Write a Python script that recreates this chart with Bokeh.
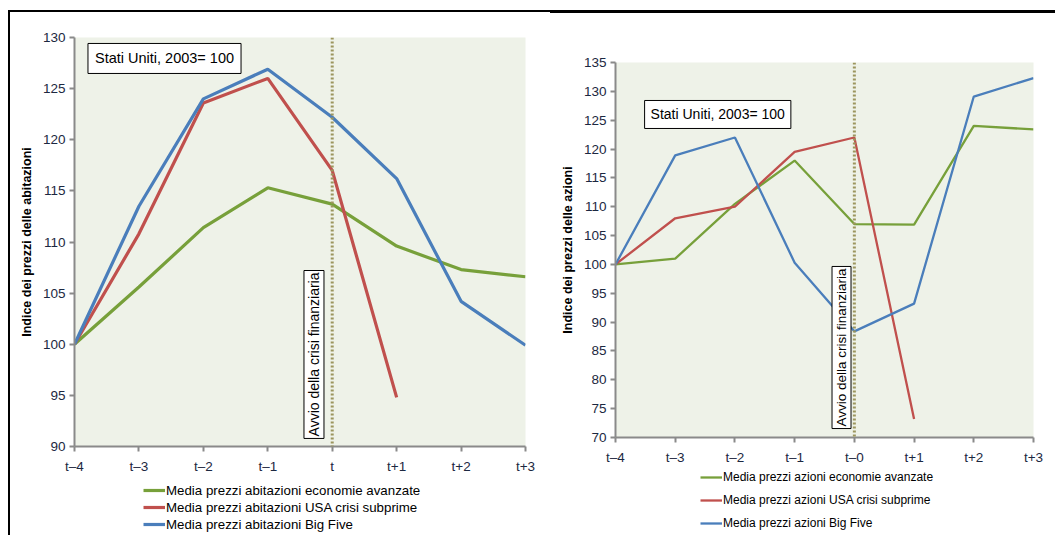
from bokeh.plotting import figure
from bokeh.layouts import row, column
from bokeh.models import (FixedTicker, Span, Label, Legend, LegendItem, Range1d)
from bokeh.embed import file_html
from bokeh.resources import INLINE
import math

# ---- data ----
periods = [-4, -3, -2, -1, 0, 1, 2, 3]
house_ticks = ["t–4", "t–3", "t–2", "t–1", "t", "t+1", "t+2", "t+3"]
stock_ticks = ["t–4", "t–3", "t–2", "t–1", "t–0", "t+1", "t+2", "t+3"]

house_advanced = [100, 105.6, 111.4, 115.3, 113.7, 109.6, 107.3, 106.6]
house_usa = [100, 110.8, 123.6, 126.0, 117.0, 94.8]
house_big5 = [100, 113.5, 124.0, 126.9, 122.2, 116.2, 104.2, 99.9]

stock_advanced = [100, 101.0, 110.5, 118.0, 107.0, 106.9, 124.0, 123.4]
stock_usa = [100, 108.0, 110.0, 119.5, 122.0, 73.2]
stock_big5 = [100, 118.9, 122.0, 100.3, 88.4, 93.2, 129.1, 132.3]

house_labels = ["Media prezzi abitazioni economie avanzate",
                "Media prezzi abitazioni USA crisi subprime",
                "Media prezzi abitazioni Big Five"]
stock_labels = ["Media prezzi azioni economie avanzate",
                "Media prezzi azioni USA crisi subprime",
                "Media prezzi azioni Big Five"]

GREEN = "#77a03a"
RED = "#c0504d"
BLUE = "#4a7ebb"
COLORS = [GREEN, RED, BLUE]
FONT = "Liberation Sans"
BG = "#eef2e8"
TICK_COL = "#1c2841"
NAN = float("nan")


def style(p, ticks, ystep, ylabel):
    p.background_fill_color = BG
    p.border_fill_color = "white"
    p.outline_line_color = None
    p.xgrid.visible = False
    p.ygrid.visible = False
    p.xaxis.ticker = FixedTicker(ticks=periods)
    p.xaxis.major_label_overrides = {k: v for k, v in zip(periods, ticks)}
    y0, y1 = p.y_range.start, p.y_range.end
    p.yaxis.ticker = FixedTicker(ticks=list(range(int(y0), int(y1) + 1, ystep)))
    for ax in (p.xaxis[0], p.yaxis[0]):
        ax.axis_line_color = "#8a8a8a"
        ax.axis_line_width = 2
        ax.major_tick_line_color = "#8a8a8a"
        ax.major_tick_line_width = 2
        ax.major_tick_in = 0
        ax.major_tick_out = 5
        ax.minor_tick_line_color = None
        ax.major_label_text_font = FONT
        ax.major_label_text_font_size = "13.5px"
        ax.major_label_text_color = TICK_COL
    p.yaxis.axis_label = ylabel
    p.yaxis.axis_label_text_font = FONT
    p.yaxis.axis_label_text_font_style = "bold"
    p.yaxis.axis_label_text_font_size = "12.5px"
    p.yaxis.axis_label_text_color = "black"
    p.yaxis.axis_label_standoff = 6
    p.yaxis.major_label_standoff = 4
    p.xaxis.major_label_standoff = 7


def boxed(p, x, y, text, size, angle=0.0, pad=4):
    p.add_layout(Label(x=x, y=y, text=text, angle=angle,
                       text_align="center", text_baseline="middle",
                       text_font=FONT, text_font_size=size, text_color="black",
                       background_fill_color="white",
                       border_line_color="black", border_line_width=1,
                       padding=pad))


def legend_panel(width, height, labels, line_width, loc, spacing, size):
    # small frame-only figure that carries the key for the panel above it
    lg = figure(width=width, height=height, output_backend="svg",
                toolbar_location=None, x_axis_type=None, y_axis_type=None,
                x_range=Range1d(0, 1), y_range=Range1d(0, 1),
                min_border=0, outline_line_color=None)
    lg.background_fill_color = "white"
    lg.border_fill_color = "white"
    lg.grid.visible = False
    keys = [lg.line([NAN], [NAN], line_color=c, line_width=line_width)
            for c in COLORS]
    lg.add_layout(Legend(items=[LegendItem(label=l, renderers=[k])
                                for l, k in zip(labels, keys)],
                         location=loc, orientation="vertical",
                         label_text_font=FONT, label_text_font_size=size,
                         label_text_color="black", glyph_width=22,
                         glyph_height=16, label_height=16, spacing=spacing,
                         padding=0, margin=0, label_standoff=1,
                         border_line_color=None, background_fill_alpha=0),
                  "center")
    return lg


# ---- house prices panel ----
left = figure(width=540, height=466, output_backend="svg", toolbar_location=None,
              x_range=Range1d(-4, 3), y_range=Range1d(90, 130),
              min_border_left=64, min_border_right=25,
              min_border_top=25, min_border_bottom=32)
style(left, house_ticks, 5, "Indice dei prezzi delle abitazioni")
left.add_layout(Span(location=0, dimension="height", line_color="#9c965e",
                     line_width=3, line_dash="2 2"))
r1 = left.line(periods, house_advanced, line_color=GREEN, line_width=3.2)
r2 = left.line(periods[:len(house_usa)], house_usa, line_color=RED, line_width=3.2)
r3 = left.line(periods, house_big5, line_color=BLUE, line_width=3.2)
boxed(left, -0.283, 99.0, "Avvio della crisi finanziaria", "14px", math.pi / 2, 2)
boxed(left, -2.603, 127.95, "Stati Uniti, 2003= 100", "14.5px", 0.0, 7)
left_key = legend_panel(540, 57, house_labels, 3.2, (69, 3), 1, "13.3px")

# ---- stock prices panel ----
right = figure(width=505, height=456, output_backend="svg", toolbar_location=None,
               x_range=Range1d(-4, 3), y_range=Range1d(70, 135),
               min_border_left=65, min_border_right=22,
               min_border_top=49, min_border_bottom=32)
style(right, stock_ticks, 5, "Indice dei prezzi delle azioni")
right.add_layout(Span(location=0, dimension="height", line_color="#9c965e",
                      line_width=3, line_dash="2 2"))
s1 = right.line(periods, stock_advanced, line_color=GREEN, line_width=2.3)
s2 = right.line(periods[:len(stock_usa)], stock_usa, line_color=RED, line_width=2.3)
s3 = right.line(periods, stock_big5, line_color=BLUE, line_width=2.3)
boxed(right, -0.215, 85.6, "Avvio della crisi finanziaria", "13.5px", math.pi / 2, 2)
boxed(right, -2.288, 125.99, "Stati Uniti, 2003= 100", "14px", 0.0, 6)
right_key = legend_panel(505, 66, stock_labels, 2.3, (85, 4), 7, "12px")

left_col = column(left, left_key, spacing=0, margin=(10, 0, 0, 8),
                  styles={"border-top": "2px solid black",
                          "border-left": "2px solid black"})
right_col = column(right, right_key, spacing=0, margin=(10, 0, 0, 0),
                   styles={"border-top": "3px solid black"})
page = row(left_col, right_col, spacing=0)
open("out.html", "w").write(file_html(page, INLINE))
